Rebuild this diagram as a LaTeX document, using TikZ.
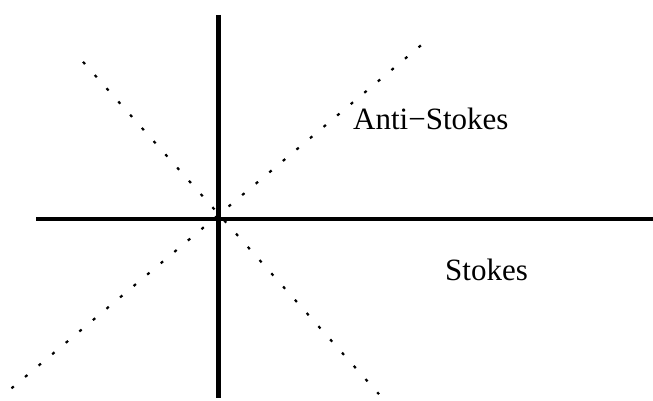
\documentclass[tikz,border=0pt]{standalone}
\usepackage{fontspec}
\setmainfont{Liberation Serif}
\begin{document}
\begin{tikzpicture}[x=1pt,y=-1pt,
  axis/.style={line width=4.8pt},
  dotline/.style={line width=2.2pt, dash pattern=on 3pt off 14.7pt},
  lbl/.style={anchor=base west, inner sep=0pt, font=\fontsize{31}{37}\selectfont}]
\useasboundingbox (0,0) rectangle (653,401);
\coordinate (vt) at (218.5,15);
\coordinate (vb) at (218.5,398);
\coordinate (hl) at (36,219);
\coordinate (hr) at (653,219);
\coordinate (d1a) at (11.5,388.3);
\coordinate (d1b) at (421,45.3);
\coordinate (d2a) at (83,61.8);
\coordinate (d2b) at (379,394.2);
\draw[dotline] (d1a) -- (d1b);
\draw[dotline] (d2a) -- (d2b);
\draw[axis] (vt) -- (vb);
\draw[axis] (hl) -- (hr);
\node[lbl] (as) at (353,130) {Anti−Stokes};
\node[lbl] (st) at (445,280) {Stokes};
\end{tikzpicture}
\end{document}
